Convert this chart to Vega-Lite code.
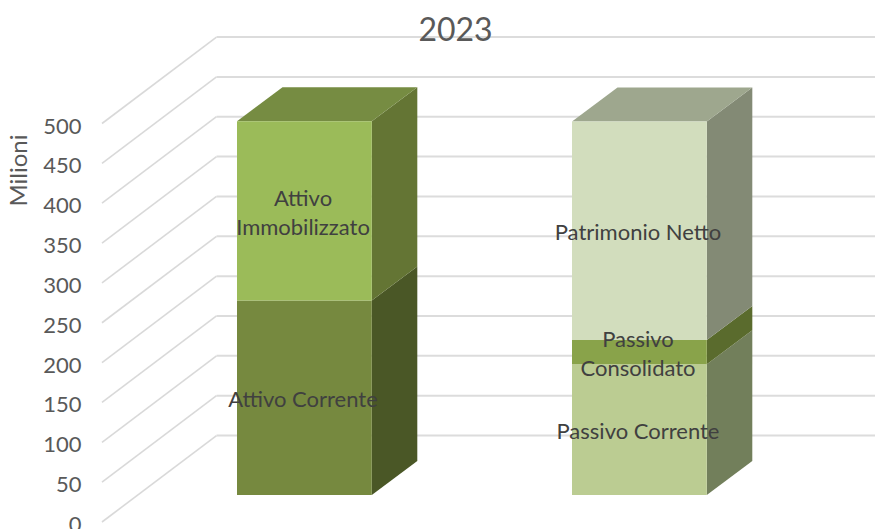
{
"$schema":"https://vega.github.io/schema/vega-lite/v6.json",
"width":875,"height":529,"padding":0,"autosize":{"type":"none"},"background":"#ffffff",
"view":{"stroke":null},
"title":{"text":"2023","font":"Lato","fontSize":32,"fontWeight":"normal","color":"#595959","anchor":"middle","frame":"group","dx":18,"offset":-48},
"datasets":{
"griglia":[{"tacca":0},{"tacca":50},{"tacca":100},{"tacca":150},{"tacca":200},{"tacca":250},{"tacca":300},{"tacca":350},{"tacca":400},{"tacca":450},{"tacca":500}],
"voci":[
{"colonna":"Attivo","voce":"Attivo Corrente","etichetta":"Attivo Corrente","valore":244,"ordine":1},
{"colonna":"Attivo","voce":"Attivo Immobilizzato","etichetta":"Attivo\nImmobilizzato","valore":225,"ordine":2},
{"colonna":"Passivo","voce":"Passivo Corrente","etichetta":"Passivo Corrente","valore":164,"ordine":1},
{"colonna":"Passivo","voce":"Passivo Consolidato","etichetta":"Passivo\nConsolidato","valore":30.5,"ordine":2},
{"colonna":"Passivo","voce":"Patrimonio Netto","etichetta":"Patrimonio Netto","valore":274,"ordine":3}
]},
"layer":[
{"data":{"name":"griglia"},
 "transform":[{"calculate":"102","as":"xa"},{"calculate":"216.5","as":"xb"},{"calculate":"875","as":"xc"},{"calculate":"datum.tacca+108.5","as":"dietro"}],
 "mark":{"type":"rule","color":"#D9D9D9","strokeWidth":1.6},
 "encoding":{
  "x":{"field":"xa","type":"quantitative","scale":{"domain":[0,875],"nice":false,"zero":false},"axis":null},
  "x2":{"field":"xb"},
  "y":{"field":"tacca","type":"quantitative","scale":{"domain":[-8.78,654.96],"nice":false,"zero":false},
   "axis":{"orient":"left","offset":-81,"values":[0,50,100,150,200,250,300,350,400,450,500],"domain":false,"ticks":false,"grid":false,"labelPadding":0,"labelOffset":2.5,"labelFont":"Lato","labelFontSize":22,"labelColor":"#595959","labelBound":false,"title":"Milioni","titleFont":"Lato","titleFontSize":24,"titleFontWeight":"normal","titleColor":"#595959","titleX":-50,"titleY":170}},
  "y2":{"field":"dietro"}
 }},
{"data":{"name":"griglia"},
 "transform":[{"calculate":"216.5","as":"xb"},{"calculate":"875","as":"xc"},{"calculate":"datum.tacca+108.5","as":"dietro"}],
 "mark":{"type":"rule","color":"#DCDCDC","strokeWidth":2},
 "encoding":{
  "x":{"field":"xb","type":"quantitative","scale":{"domain":[0,875],"nice":false,"zero":false},"axis":null},
  "x2":{"field":"xc"},
  "y":{"field":"dietro","type":"quantitative","scale":{"domain":[-8.78,654.96],"nice":false,"zero":false},"axis":null}
 }},
{"data":{"name":"voci"},
 "transform":[
  {"stack":"valore","groupby":["colonna"],"sort":[{"field":"ordine","order":"ascending"}],"as":["y0","y1"]},
  {"calculate":"datum.colonna==='Attivo'?237:572","as":"xs"},
  {"calculate":"datum.xs+134.8","as":"xd"},
  {"calculate":"datum.y0+33.9","as":"y0f"},
  {"calculate":"datum.y1+33.9","as":"y1f"}
 ],
 "layer":[
  {"transform":[
    {"calculate":"[0,1]","as":"t"},{"flatten":["t"]},
    {"calculate":"datum.xd+datum.t*45.5","as":"xx"},
    {"calculate":"datum.y0f+datum.t*42.7","as":"lo"},
    {"calculate":"datum.y1f+datum.t*42.7","as":"hi"}],
   "mark":{"type":"area","orient":"vertical"},
   "encoding":{
    "x":{"field":"xx","type":"quantitative","scale":{"domain":[0,875],"nice":false,"zero":false},"axis":null},
    "y":{"field":"lo","type":"quantitative","stack":null,"scale":{"domain":[-8.78,654.96],"nice":false,"zero":false},"axis":null},
    "y2":{"field":"hi"},
    "color":{"field":"voce","type":"nominal","legend":null,"scale":{"domain":["Attivo Corrente","Attivo Immobilizzato","Passivo Corrente","Passivo Consolidato","Patrimonio Netto"],"range":["#4A5726","#647534","#727F5B","#5A6B2D","#838A75"]}}
   }},
  {"transform":[
    {"filter":"datum.voce==='Attivo Immobilizzato'||datum.voce==='Patrimonio Netto'"},
    {"calculate":"[0,1,2,3]","as":"t"},{"flatten":["t"]},
    {"calculate":"[datum.xs,datum.xs+45.5,datum.xd,datum.xd+45.5][datum.t]","as":"xx"},
    {"calculate":"datum.t===3?datum.y1f+42.7:datum.y1f","as":"lo"},
    {"calculate":"datum.t===0?datum.y1f:datum.y1f+42.7","as":"hi"}],
   "mark":{"type":"area","orient":"vertical"},
   "encoding":{
    "x":{"field":"xx","type":"quantitative","scale":{"domain":[0,875],"nice":false,"zero":false},"axis":null},
    "y":{"field":"lo","type":"quantitative","stack":null,"scale":{"domain":[-8.78,654.96],"nice":false,"zero":false},"axis":null},
    "y2":{"field":"hi"},
    "color":{"field":"voce","type":"nominal","legend":null,"scale":{"domain":["Attivo Immobilizzato","Patrimonio Netto"],"range":["#768C42","#9EA78E"]}}
   }},
  {"mark":{"type":"rect"},
   "encoding":{
    "x":{"field":"xs","type":"quantitative","scale":{"domain":[0,875],"nice":false,"zero":false},"axis":null},
    "x2":{"field":"xd"},
    "y":{"field":"y0f","type":"quantitative","stack":null,"scale":{"domain":[-8.78,654.96],"nice":false,"zero":false},"axis":null},
    "y2":{"field":"y1f"},
    "color":{"field":"voce","type":"nominal","legend":null,"scale":{"domain":["Attivo Corrente","Attivo Immobilizzato","Passivo Corrente","Passivo Consolidato","Patrimonio Netto"],"range":["#76893F","#9BBB59","#BBCC92","#89A34A","#D2DDBD"]}}
   }},
  {"transform":[
    {"calculate":"datum.xs+66","as":"xm"},
    {"calculate":"(datum.y0f+datum.y1f)/2-3+(indexof(datum.etichetta,'\\n')>=0?18:0)","as":"ym"}],
   "mark":{"type":"text","font":"Lato","fontSize":22,"color":"#404040","lineBreak":"\n","lineHeight":29,"align":"center","baseline":"middle"},
   "encoding":{
    "x":{"field":"xm","type":"quantitative","scale":{"domain":[0,875],"nice":false,"zero":false},"axis":null},
    "y":{"field":"ym","type":"quantitative","stack":null,"scale":{"domain":[-8.78,654.96],"nice":false,"zero":false},"axis":null},
    "text":{"field":"etichetta","type":"nominal"}
   }}
 ],
 "resolve":{"scale":{"color":"independent"},"axis":{"y":"independent"}}}
],
"resolve":{"scale":{"color":"independent"},"axis":{"y":"independent"}}
}
